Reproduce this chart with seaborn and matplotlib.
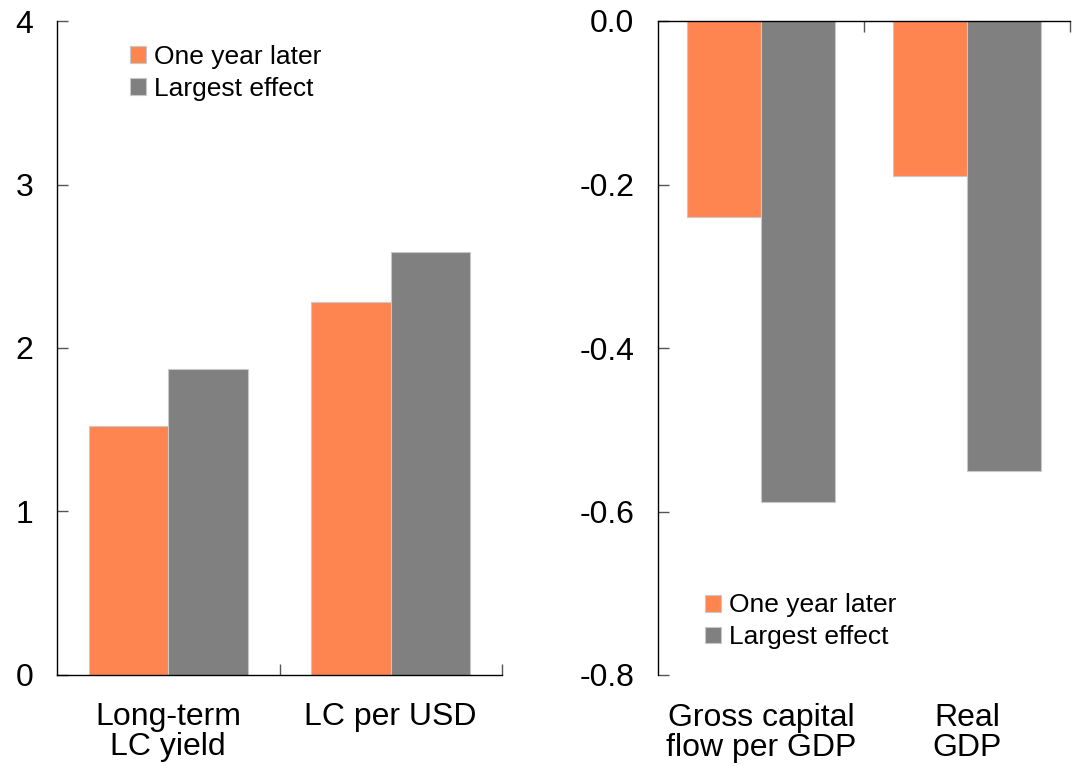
import matplotlib
matplotlib.use("Agg")
import matplotlib.pyplot as plt
import numpy as np
import pandas as pd
import seaborn as sns

sns.set_theme(style="white")
plt.rcParams["font.family"] = ["Liberation Sans", "DejaVu Sans"]
plt.rcParams["axes.unicode_minus"] = False
plt.rcParams["text.color"] = "black"

SERIES = ["One year later", "Largest effect"]
COLORS = ["#FF8550", "#808080"]

# left panel: financial variables
left_cats = ["Long-term\nLC yield", "LC per USD"]
left_one_year = [1.52, 2.28]
left_largest = [1.87, 2.59]

# right panel: real variables
right_cats = ["Gross capital\nflow per GDP", "Real\nGDP"]
right_one_year = [-0.24, -0.19]
right_largest = [-0.588, -0.55]


def long_df(cats, one_year, largest):
    return pd.DataFrame({
        "category": cats * 2,
        "series": [SERIES[0]] * len(cats) + [SERIES[1]] * len(cats),
        "value": list(one_year) + list(largest),
    })


W, H = 1089, 766
fig = plt.figure(figsize=(W / 100, H / 100), dpi=100)
ax_l = fig.add_axes([57 / W, 1 - 674.5 / H, (502 - 57) / W, (674.5 - 21.4) / H])
ax_r = fig.add_axes([658 / W, 1 - 675 / H, (1070 - 658) / W, (675 - 21) / H])

legend_kw = dict(frameon=False, fontsize=19, handlelength=0.6, handleheight=0.6,
                 handletextpad=0.3, labelspacing=0.3, borderaxespad=0)

for ax, cats, a, b in [(ax_l, left_cats, left_one_year, left_largest),
                       (ax_r, right_cats, right_one_year, right_largest)]:
    sns.barplot(data=long_df(cats, a, b), x="category", y="value", hue="series",
                palette=COLORS, width=0.716, edgecolor="#c8c8c8", linewidth=0.8,
                saturation=1, ax=ax)
    ax.set_xlabel("")
    ax.set_ylabel("")
    ax.set_xlim(-0.5, 1.5)
    for s in ax.spines.values():
        s.set_color("black")
        s.set_linewidth(1.0)
    ax.tick_params(axis="x", which="major", length=0, labelsize=23, pad=20,
                   labelcolor="black")
    ax.tick_params(axis="y", direction="in", length=8, width=1, color="#555555",
                   labelsize=23, pad=17, left=True, labelcolor="black")
    ax.set_xticks([0.5, 1.5], minor=True)
    for t in ax.get_xticklabels():
        t.set_linespacing(1.0)

# left panel
ax_l.set_ylim(0, 4)
ax_l.set_yticks([0, 1, 2, 3, 4])
ax_l.set_yticklabels(["0", "1", "2", "3", "4"])
ax_l.spines["top"].set_visible(False)
ax_l.spines["right"].set_visible(False)
ax_l.tick_params(axis="x", which="minor", direction="in", length=8, width=1,
                 color="#555555", bottom=True)
ax_l.legend(loc="upper left", bbox_to_anchor=(0.14, 0.98), **legend_kw)

# right panel
ax_r.set_ylim(-0.8, 0)
yt = [0.0, -0.2, -0.4, -0.6, -0.8]
ax_r.set_yticks(yt)
ax_r.set_yticklabels([f"{v:.1f}" for v in yt])
ax_r.spines["bottom"].set_visible(False)
ax_r.spines["right"].set_visible(False)
ax_r.tick_params(axis="x", which="minor", direction="in", length=8, width=1,
                 color="#555555", top=True, bottom=False)
ax_r.legend(loc="lower left", bbox_to_anchor=(0.088, 0.023), **legend_kw)

fig.savefig("out.png", dpi=100)
